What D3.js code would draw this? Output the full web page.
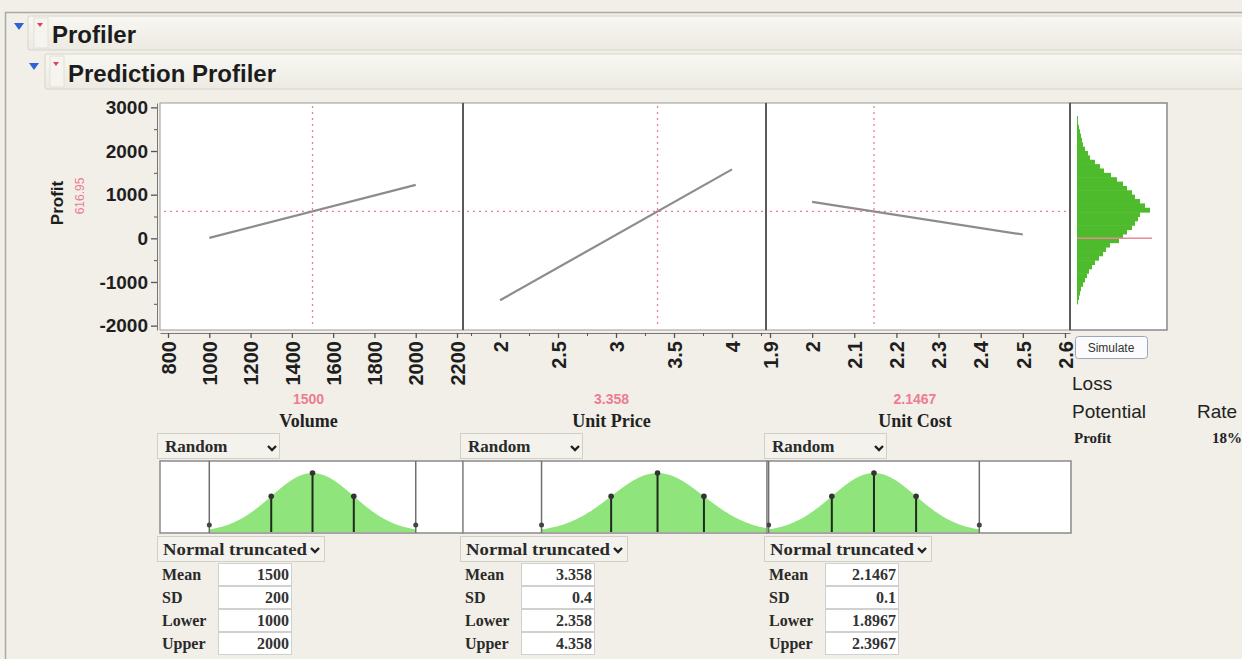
<!DOCTYPE html>
<html><head><meta charset="utf-8">
<script src="https://cdn.jsdelivr.net/npm/d3@7"></script>
<style>body{margin:0;background:#f1efe8;} svg{display:block}</style>
</head><body><svg id="c" width="1242" height="659"></svg>
<script>
// ---------- DATA ----------
const factorNames = ["Volume", "Unit Price", "Unit Cost"];
const currentValues = [1500, 3.358, 2.1467];
const currentLabels = ["1500", "3.358", "2.1467"];
const currentProfit = 616.95;
const currentProfitLabel = "616.95";
const volumeTicks = [800, 1000, 1200, 1400, 1600, 1800, 2000, 2200];
const priceTicks = [2, 2.5, 3, 3.5, 4];
const priceMinorTicks = [1.75, 2.25, 2.75, 3.25, 3.75, 4.25];
const costTicks = [1.9, 2, 2.1, 2.2, 2.3, 2.4, 2.5, 2.6];
const profitTicks = [-2000, -1000, 0, 1000, 2000, 3000];
const profitMinorTicks = [-1500, -500, 500, 1500, 2500];
const volumeProfileX = [1000, 2000];
const volumeProfileY = [11, 1223];
const priceProfileX = [2, 4];
const priceProfileY = [-1420, 1580];
const costProfileX = [2, 2.5];
const costProfileY = [837, 87];
const histBinStart = [-1500,-1400,-1300,-1200,-1100,-1000,-900,-800,-700,-600,-500,-400,-300,-200,-100,0,100,200,300,400,500,600,700,800,900,1000,1100,1200,1300,1400,1500,1600,1700,1800,1900,2000,2100,2200,2300,2400,2500,2600,2700];
const histCounts   = [1,2,3,4,6,8,10,12,15,18,22,26,29,33,42,46,50,55,58,61,63,73,68,63,58,55,50,46,40,34,27,23,18,13,11,8,6,5,4,3,2,1,1];
const histBinWidth = 100;
const lossThreshold = 0;
const distMeans = [1500, 3.358, 2.1467];
const distSDs = [200, 0.4, 0.1];
const distLowers = [1000, 2.358, 1.8967];
const distUppers = [2000, 4.358, 2.3967];
const meanLabels = ["1500", "3.358", "2.1467"];
const sdLabels = ["200", "0.4", "0.1"];
const lowerLabels = ["1000", "2.358", "1.8967"];
const upperLabels = ["2000", "4.358", "2.3967"];
const lossRateLabel = "18%";

// ---------- LAYOUT ----------
const svg = d3.select("#c");
const BG = "#f1efe8";
const PY0 = 103, PY1 = 330;
const panels = [
  {x0:160, x1:463, domain:[761.2, 2229], ticks:volumeTicks, minor:[], px:volumeProfileX, py:volumeProfileY},
  {x0:463, x1:766, domain:[1.681, 4.293], ticks:priceTicks, minor:priceMinorTicks, px:priceProfileX, py:priceProfileY},
  {x0:766, x1:1070, domain:[1.8905, 2.6119], ticks:costTicks, minor:[], px:costProfileX, py:costProfileY}
];
const y = d3.scaleLinear().domain([-2100, 3100]).range([PY1, PY0]);
const red = "#ec7d93";
const sans = "'Liberation Sans', Arial, sans-serif";
const serif = "'Liberation Serif', 'Times New Roman', serif";

const defs = svg.append("defs");
const grad = defs.append("linearGradient").attr("id","bar").attr("x1",0).attr("y1",0).attr("x2",0).attr("y2",1);
grad.append("stop").attr("offset","0%").attr("stop-color","#f8f7f2");
grad.append("stop").attr("offset","100%").attr("stop-color","#eceae2");

// outer frame
svg.append("rect").attr("x",5.5).attr("y",12.5).attr("width",1250).attr("height",660)
  .attr("fill",BG).attr("stroke","#a9a9a9").attr("stroke-width",1.5);

// header bars
function header(x, y0, h, label, tx, base, triX, triY, redX, redY) {
  svg.append("rect").attr("x",x).attr("y",y0).attr("width",1300).attr("height",h)
    .attr("fill","url(#bar)").attr("stroke","#d6d4ca").attr("rx",2);
  svg.append("path").attr("d",`M${triX},${triY} l10,0 l-5,7 z`).attr("fill","#2f62d6");
  svg.append("rect").attr("x",redX-6).attr("y",y0+2).attr("width",14).attr("height",h-4)
    .attr("fill","#f6f4ee").attr("stroke","#e2e0d8");
  svg.append("path").attr("d",`M${redX-3},${redY} l6,0 l-3,4 z`).attr("fill","#e0405a");
  svg.append("text").attr("x",tx).attr("y",base).text(label)
    .attr("font-family",sans).attr("font-weight","bold").attr("font-size",24).attr("fill","#1c1c1c");
}
header(28, 16, 34, "Profiler", 52, 43, 14, 23, 40, 23);
header(45, 54, 35, "Prediction Profiler", 68, 82, 29, 63, 56, 62);

// ---------- PROFILE PANELS ----------
panels.forEach((p, i) => {
  const x = d3.scaleLinear().domain(p.domain).range([p.x0, p.x1]);
  p.x = x;
  svg.append("rect").attr("x",p.x0).attr("y",PY0).attr("width",p.x1-p.x0).attr("height",PY1-PY0)
    .attr("fill","#fff").attr("stroke","#9a9a9a");
  // crosshairs
  svg.append("line").attr("x1",x(currentValues[i])).attr("x2",x(currentValues[i]))
    .attr("y1",PY0+3).attr("y2",PY1-3).attr("stroke",red).attr("stroke-width",1.3).attr("stroke-dasharray","2,4");
  svg.append("line").attr("x1",p.x0+4).attr("x2",p.x1-2).attr("y1",y(currentProfit)).attr("y2",y(currentProfit))
    .attr("stroke",red).attr("stroke-width",1.3).attr("stroke-dasharray","2,4");
  // profile line
  const line = d3.line().x(d=>x(d[0])).y(d=>y(d[1]));
  svg.append("path").attr("d",line(p.px.map((v,k)=>[v,p.py[k]])))
    .attr("stroke","#8c8c8c").attr("stroke-width",2.2).attr("fill","none");
  // x axis
  const ax = svg.append("g").attr("transform",`translate(0,333)`)
    .call(d3.axisBottom(x).tickValues(p.ticks).tickSize(5).tickSizeOuter(0).tickFormat(d=>String(d)));
  ax.select(".domain").attr("stroke","#777");
  ax.selectAll(".tick line").attr("stroke","#555").attr("stroke-width",1.3);
  ax.selectAll("text").attr("transform","rotate(-90)").attr("text-anchor","end")
    .attr("x",-8).attr("y",0).attr("dy","0.36em")
    .attr("font-family",sans).attr("font-weight","bold").attr("font-size",20).attr("fill","#1e1e1e");
  if (p.minor.length) {
    const mx = svg.append("g").attr("transform",`translate(0,333)`)
      .call(d3.axisBottom(x).tickValues(p.minor).tickSize(3).tickFormat(""));
    mx.select(".domain").remove();
    mx.selectAll(".tick line").attr("stroke","#555");
  }
  const cx = (p.x0+p.x1)/2 - 3;
  svg.append("text").attr("x",cx).attr("y",404).attr("text-anchor","middle").text(currentLabels[i])
    .attr("font-family",sans).attr("font-weight","bold").attr("font-size",14).attr("fill",red);
  svg.append("text").attr("x",cx).attr("y",427).attr("text-anchor","middle").text(factorNames[i])
    .attr("font-family",serif).attr("font-weight","bold").attr("font-size",18).attr("fill","#222");
});
// separators
[463, 766, 1070].forEach(sx => {
  svg.append("line").attr("x1",sx).attr("x2",sx).attr("y1",PY0).attr("y2",PY1)
    .attr("stroke","#5a5a5a").attr("stroke-width",2);
});

// y axis
const ay = svg.append("g").attr("transform","translate(157,0)")
  .call(d3.axisLeft(y).tickValues(profitTicks).tickSize(6).tickSizeOuter(0).tickFormat(d=>String(d)));
ay.select(".domain").attr("stroke","#777");
ay.selectAll(".tick line").attr("stroke","#555").attr("stroke-width",1.3);
ay.selectAll("text").attr("font-family",sans).attr("font-weight","bold").attr("font-size",19).attr("fill","#1e1e1e").attr("x",-9);
const ayMinor = svg.append("g").attr("transform","translate(157,0)")
  .call(d3.axisLeft(y).tickValues(profitMinorTicks).tickSize(3).tickFormat(""));
ayMinor.select(".domain").remove();
ayMinor.selectAll(".tick line").attr("stroke","#555");
svg.append("text").attr("transform",`translate(63,203) rotate(-90)`).attr("text-anchor","middle").text("Profit")
  .attr("font-family",sans).attr("font-weight","bold").attr("font-size",17).attr("fill","#1e1e1e");
svg.append("text").attr("transform",`translate(84,196) rotate(-90)`).attr("text-anchor","middle").text(currentProfitLabel)
  .attr("font-family",sans).attr("font-size",12).attr("fill",red);

// ---------- HISTOGRAM ----------
const HX0 = 1070, HX1 = 1167;
svg.append("rect").attr("x",HX0).attr("y",PY0).attr("width",HX1-HX0).attr("height",PY1-PY0)
  .attr("fill","#fff").attr("stroke","#8a8a8a").attr("stroke-width",1.5);
const xh = d3.scaleLinear().domain([0, 90]).range([1077, 1167]);
svg.append("g").selectAll("rect").data(histBinStart).join("rect")
  .attr("x",xh(0)).attr("y",(d)=>y(d+histBinWidth)).attr("height",(d)=>y(d)-y(d+histBinWidth)+0.5)
  .attr("width",(d,k)=>xh(histCounts[k])-xh(0)).attr("fill","#4dbb2b");
svg.append("line").attr("x1",xh(0)).attr("x2",xh(75)).attr("y1",y(lossThreshold)).attr("y2",y(lossThreshold))
  .attr("stroke","#e88a96").attr("stroke-width",1.5);
svg.append("line").attr("x1",HX0).attr("x2",HX0).attr("y1",PY0).attr("y2",PY1).attr("stroke","#5a5a5a").attr("stroke-width",2);

// simulate button
svg.append("rect").attr("x",1075.5).attr("y",336.5).attr("width",72).attr("height",22).attr("rx",3)
  .attr("fill","#fbfbfd").attr("stroke","#9aa6bd");
svg.append("text").attr("x",1111).attr("y",352).attr("text-anchor","middle").text("Simulate")
  .attr("font-family",sans).attr("font-size",12).attr("fill","#333");

svg.append("text").attr("x",1072).attr("y",390).text("Loss").attr("font-family",sans).attr("font-size",19).attr("fill","#222");
svg.append("text").attr("x",1072).attr("y",418).text("Potential").attr("font-family",sans).attr("font-size",19).attr("fill","#222");
svg.append("text").attr("x",1197).attr("y",418).text("Rate").attr("font-family",sans).attr("font-size",19).attr("fill","#222");
svg.append("text").attr("x",1074).attr("y",443).text("Profit").attr("font-family",serif).attr("font-weight","bold").attr("font-size",15).attr("fill","#222");
svg.append("text").attr("x",1212).attr("y",443).text(lossRateLabel).attr("font-family",serif).attr("font-weight","bold").attr("font-size",15).attr("fill","#222");

// ---------- DISTRIBUTION PANELS ----------
const DY0 = 461, DY1 = 533, DBASE = 532, DH = 59;
const distPanels = [{x0:160,x1:463},{x0:463,x1:767},{x0:767,x1:1071}];
function chevron(cx, cy) {
  svg.append("path").attr("d",`M${cx-4},${cy-2} L${cx},${cy+2} L${cx+4},${cy-2}`)
    .attr("fill","none").attr("stroke","#222").attr("stroke-width",2.4);
}
distPanels.forEach((dp, i) => {
  const x = d3.scaleLinear().domain(panels[i].domain).range([panels[i].x0, panels[i].x1]);
  const clipId = "clip"+i;
  defs.append("clipPath").attr("id",clipId).append("rect")
    .attr("x",dp.x0).attr("y",DY0).attr("width",dp.x1-dp.x0).attr("height",DY1-DY0);
  svg.append("rect").attr("x",dp.x0).attr("y",DY0).attr("width",dp.x1-dp.x0).attr("height",DY1-DY0)
    .attr("fill","#fff").attr("stroke","#8a8a8a").attr("stroke-width",1.5);
  const m = distMeans[i], s = distSDs[i], lo = distLowers[i], hi = distUppers[i];
  const rel = v => Math.exp(-0.5*((v-m)/s)**2);
  const hy = d3.scaleLinear().domain([0,1]).range([DBASE, DBASE-DH]);
  const pts = d3.range(0, 201).map(k => lo + (hi-lo)*k/200);
  const area = d3.area().x(v=>x(v)).y0(DBASE).y1(v=>hy(rel(v)));
  const g = svg.append("g").attr("clip-path",`url(#${clipId})`);
  g.append("path").attr("d",area(pts)).attr("fill","#8fe57b");
  // bounds
  [lo, hi].forEach(b => {
    g.append("line").attr("x1",x(b)).attr("x2",x(b)).attr("y1",DY0).attr("y2",DY1)
      .attr("stroke","#6f6f6f").attr("stroke-width",1.5);
    g.append("circle").attr("cx",x(b)).attr("cy",DBASE-7).attr("r",2.5).attr("fill","#444");
  });
  [m-s, m, m+s].forEach(v => {
    g.append("line").attr("x1",x(v)).attr("x2",x(v)).attr("y1",DBASE).attr("y2",hy(rel(v)))
      .attr("stroke","#1e2a1e").attr("stroke-width",2);
    g.append("circle").attr("cx",x(v)).attr("cy",hy(rel(v))).attr("r",2.8).attr("fill","#333");
  });
  // Random dropdown
  svg.append("rect").attr("x",dp.x0-2.5).attr("y",433.5).attr("width",122).attr("height",25)
    .attr("fill","#f4f2ec").attr("stroke","#d2d0c6");
  svg.append("text").attr("x",dp.x0+5).attr("y",452).text("Random")
    .attr("font-family",serif).attr("font-weight","bold").attr("font-size",17).attr("fill","#2a2a2a");
  chevron(dp.x0+112, 448);
  // Normal truncated dropdown
  svg.append("rect").attr("x",dp.x0-2.5).attr("y",536.5).attr("width",167).attr("height",25)
    .attr("fill","#f4f2ec").attr("stroke","#d2d0c6");
  svg.append("text").attr("x",dp.x0+3).attr("y",555).text("Normal truncated")
    .attr("font-family",serif).attr("font-weight","bold").attr("font-size",17).attr("fill","#2a2a2a")
    .attr("textLength",144).attr("lengthAdjust","spacingAndGlyphs");
  chevron(dp.x0+155, 550);
  // parameter table
  const rows = [["Mean", meanLabels[i]], ["SD", sdLabels[i]], ["Lower", lowerLabels[i]], ["Upper", upperLabels[i]]];
  rows.forEach((r, k) => {
    const ry = 563 + k*23;
    svg.append("text").attr("x",dp.x0+2).attr("y",ry+17).text(r[0])
      .attr("font-family",serif).attr("font-weight","bold").attr("font-size",16).attr("fill","#2a2a2a");
    svg.append("rect").attr("x",dp.x0+58.5).attr("y",ry+0.5).attr("width",73).attr("height",22)
      .attr("fill","#fff").attr("stroke","#d0d0cc");
    svg.append("text").attr("x",dp.x0+129).attr("y",ry+17).attr("text-anchor","end").text(r[1])
      .attr("font-family",serif).attr("font-weight","bold").attr("font-size",16).attr("fill","#333");
  });
});
</script></body></html>
